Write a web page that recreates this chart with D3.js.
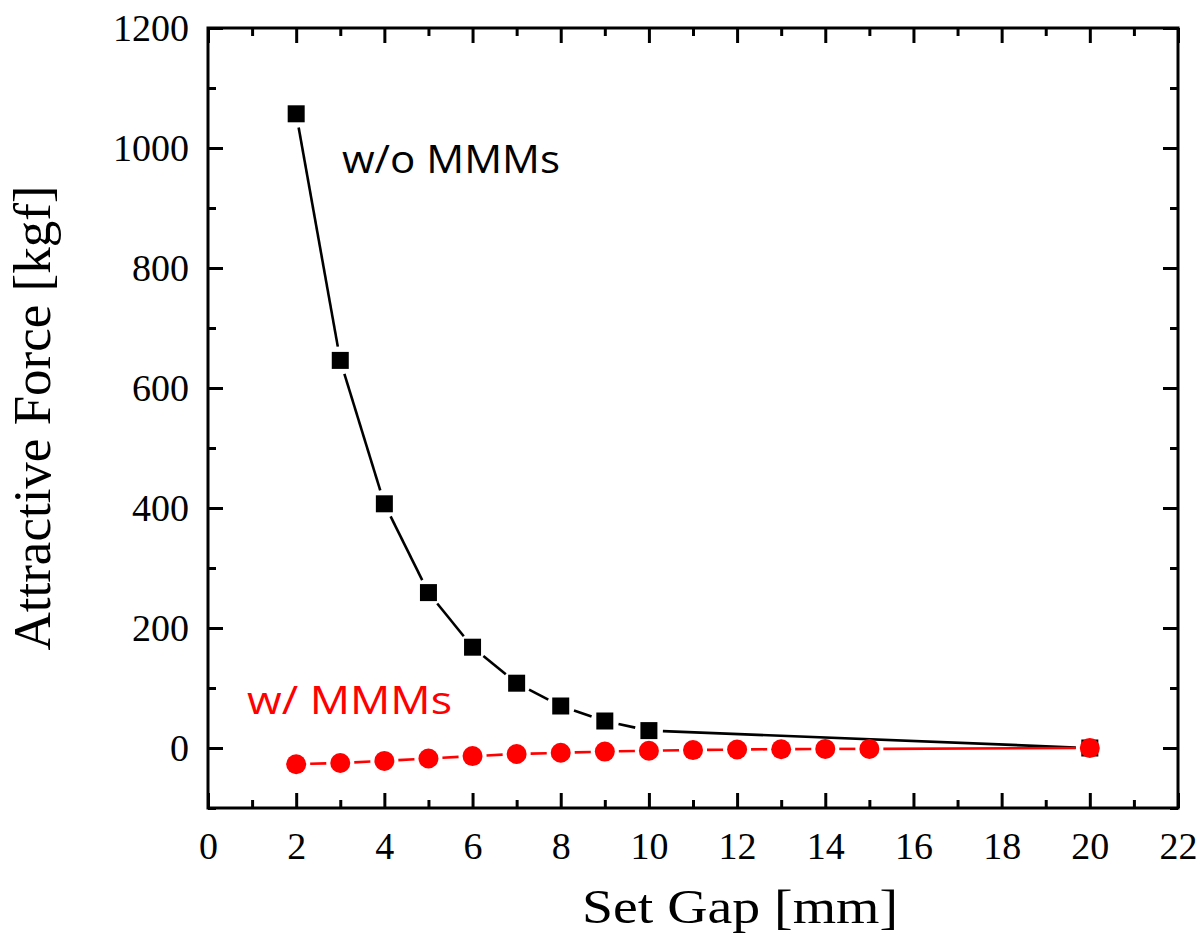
<!DOCTYPE html>
<html>
<head>
<meta charset="utf-8">
<script src="https://cdn.jsdelivr.net/npm/d3@7"></script>
<style>
  body { margin: 0; background: #fff; }
  svg { display: block; }
</style>
</head>
<body>
<svg id="chart" width="1201" height="943"></svg>
<script>
// set gap [mm] vs attractive force [kgf]
var gapNoMMM   = [2, 3, 4, 5, 6, 7, 8, 9, 10, 20];
var forceNoMMM = [1057, 646, 407, 259, 168, 108, 70, 45, 29, 0];

var gapMMM   = [2, 3, 4, 5, 6, 7, 8, 9, 10, 11, 12, 13, 14, 15, 20];
var forceMMM = [-27, -25, -21.5, -17.5, -13.5, -10, -8, -6, -4.5, -3.5, -2.5, -2, -1.5, -1.5, 0];

var xTicks = [0, 2, 4, 6, 8, 10, 12, 14, 16, 18, 20, 22];
var yTicks = [0, 200, 400, 600, 800, 1000, 1200];

var svg = d3.select('#chart');

var plotLeft = 208, plotRight = 1178, plotTop = 28, plotBottom = 808;

var x = d3.scaleLinear().domain([0, 22]).range([plotLeft, plotRight]);
var y = d3.scaleLinear().domain([-100, 1200]).range([plotBottom, plotTop]);

var serif = '"Liberation Serif", "Times New Roman", serif';
var sans = '"Open Sans", "Noto Sans", sans-serif';
var fmt = d3.format('d');

// axes, all four sides with inward ticks
function styleAxis(g){
    g.select('.domain').remove();
    g.selectAll('line').attr('stroke', '#000').attr('stroke-width', 3);
    g.attr('font-family', serif).attr('font-size', 38);
    g.selectAll('text').attr('fill', '#000');
}

var xMinor = d3.range(1, 22, 2);
var yMinor = d3.range(-100, 1200, 200);

svg.append('g').attr('transform', 'translate(0,' + plotBottom + ')')
    .call(d3.axisBottom(x).tickValues(xTicks).tickFormat(fmt).tickSizeInner(-15).tickSizeOuter(0).tickPadding(24))
    .call(styleAxis);
svg.append('g').attr('transform', 'translate(0,' + plotBottom + ')')
    .call(d3.axisBottom(x).tickValues(xMinor).tickSizeInner(-8).tickSizeOuter(0).tickFormat(''))
    .call(styleAxis);
svg.append('g').attr('transform', 'translate(0,' + plotTop + ')')
    .call(d3.axisTop(x).tickValues(xTicks).tickSizeInner(-15).tickSizeOuter(0).tickFormat(''))
    .call(styleAxis);
svg.append('g').attr('transform', 'translate(0,' + plotTop + ')')
    .call(d3.axisTop(x).tickValues(xMinor).tickSizeInner(-8).tickSizeOuter(0).tickFormat(''))
    .call(styleAxis);

svg.append('g').attr('transform', 'translate(' + plotLeft + ',0)')
    .call(d3.axisLeft(y).tickValues(yTicks).tickFormat(fmt).tickSizeInner(-15).tickSizeOuter(0).tickPadding(19))
    .call(styleAxis);
svg.append('g').attr('transform', 'translate(' + plotLeft + ',0)')
    .call(d3.axisLeft(y).tickValues(yMinor).tickSizeInner(-8).tickSizeOuter(0).tickFormat(''))
    .call(styleAxis);
svg.append('g').attr('transform', 'translate(' + plotRight + ',0)')
    .call(d3.axisRight(y).tickValues(yTicks).tickSizeInner(-15).tickSizeOuter(0).tickFormat(''))
    .call(styleAxis);
svg.append('g').attr('transform', 'translate(' + plotRight + ',0)')
    .call(d3.axisRight(y).tickValues(yMinor).tickSizeInner(-8).tickSizeOuter(0).tickFormat(''))
    .call(styleAxis);

// frame
svg.append('rect')
    .attr('x', plotLeft).attr('y', plotTop)
    .attr('width', plotRight - plotLeft).attr('height', plotBottom - plotTop)
    .attr('fill', 'none').attr('stroke', '#000').attr('stroke-width', 3);

// connecting segments that stop short of the markers
function drawSegments(xs, ys, color, gap){
    var pts = xs.map(function(v, i){ return [x(v), y(ys[i])]; });
    var segs = [];
    for (var i = 0; i < pts.length - 1; i++) {
        var a = pts[i], b = pts[i + 1];
        var dx = b[0] - a[0], dy = b[1] - a[1];
        var len = Math.sqrt(dx * dx + dy * dy);
        if (len <= 2 * gap) continue;
        var ux = dx / len, uy = dy / len;
        segs.push([a[0] + ux * gap, a[1] + uy * gap, b[0] - ux * gap, b[1] - uy * gap]);
    }
    svg.append('g').selectAll('line').data(segs).enter().append('line')
        .attr('x1', function(d){ return d[0]; })
        .attr('y1', function(d){ return d[1]; })
        .attr('x2', function(d){ return d[2]; })
        .attr('y2', function(d){ return d[3]; })
        .attr('stroke', color).attr('stroke-width', 2.6);
}

drawSegments(gapNoMMM, forceNoMMM, '#000', 14);
svg.append('g').selectAll('rect').data(gapNoMMM).enter().append('rect')
    .attr('x', function(d){ return x(d) - 8.5; })
    .attr('y', function(d, i){ return y(forceNoMMM[i]) - 8.5; })
    .attr('width', 17).attr('height', 17)
    .attr('fill', '#000');

drawSegments(gapMMM, forceMMM, '#ff0000', 14);
svg.append('g').selectAll('circle').data(gapMMM).enter().append('circle')
    .attr('cx', function(d){ return x(d); })
    .attr('cy', function(d, i){ return y(forceMMM[i]); })
    .attr('r', 10)
    .attr('fill', '#ff0000');

// annotations
svg.append('text').attr('x', 342).attr('y', 173)
    .attr('font-family', sans).attr('font-size', 38).attr('fill', '#000')
    .attr('textLength', 218).attr('lengthAdjust', 'spacingAndGlyphs')
    .text('w/o MMMs');
svg.append('text').attr('x', 247).attr('y', 714)
    .attr('font-family', sans).attr('font-size', 38).attr('fill', '#ff0000')
    .attr('textLength', 205).attr('lengthAdjust', 'spacingAndGlyphs')
    .text('w/ MMMs');

// axis titles
svg.append('text').attr('x', 582).attr('y', 923)
    .attr('font-family', serif).attr('font-size', 48).attr('fill', '#000')
    .attr('textLength', 316).attr('lengthAdjust', 'spacingAndGlyphs')
    .text('Set Gap [mm]');
svg.append('text')
    .attr('transform', 'translate(50,418) rotate(-90)')
    .attr('text-anchor', 'middle')
    .attr('font-family', serif).attr('font-size', 53).attr('fill', '#000')
    .text('Attractive Force [kgf]');
</script>
</body>
</html>
